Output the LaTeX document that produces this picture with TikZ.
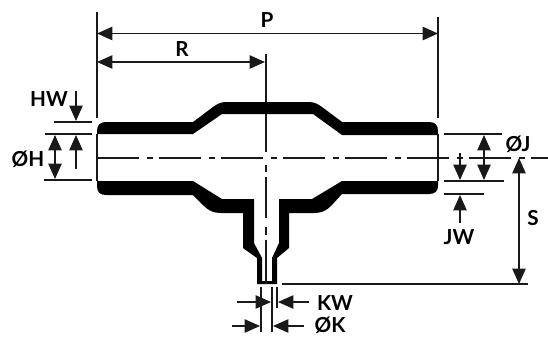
\documentclass[tikz,border=0pt]{standalone}
\usepackage{fontspec}
\setmainfont{Lato}
\usepackage{tikz}
\usetikzlibrary{arrows.meta}

\begin{document}
\begin{tikzpicture}[
    x=0.75pt,
    y=-0.75pt,
    wall/.style={
        fill=black,
        draw=none
    },
    extline/.style={
        draw=black!90,
        line width=1.05pt
    },
    dimarrow/.style={
        draw=black!90,
        line width=1.05pt,
        -{Triangle[length=11.5pt,width=10pt]}
    },
    dimboth/.style={
        dimarrow,
        {Triangle[length=11.5pt,width=10pt]}-{Triangle[length=11.5pt,width=10pt]}
    },
    centreline/.style={
        draw=black!90,
        line width=0.9pt,
        dash pattern=on 31.5pt off 6pt on 4.5pt off 4.5pt
    },
    dimlabel/.style={
        font=\fontsize{15.5}{15.5}\selectfont\bfseries,
        text=black,
        inner sep=0pt
    }
]
\useasboundingbox (0,0) rectangle (548,336);

% Upper wall
\fill[wall] (97,134) -- (97,131) .. controls (97,125) and (100,122) .. (106,122)
    -- (193,122) -- (213,107) .. controls (217,104) and (221,102) .. (226,102)
    -- (309,102) .. controls (314,102) and (318,104) .. (322,107)
    -- (342,122) -- (429,122) .. controls (435,122) and (438,125) .. (438,131)
    -- (438,135) -- (342,135) -- (313,114) -- (222,114) -- (193,134) -- cycle;

% Lower wall and stem
\fill[wall] (97,181) -- (97,186) .. controls (97,192) and (100,195) .. (106,195)
    -- (193,195) -- (204,206) .. controls (209,211) and (214,213) .. (221,213)
    -- (243,213) -- (243,248) -- (257,258) -- (257,284) -- (277,284)
    -- (277,258) -- (289,248) -- (289,213) -- (314,213)
    .. controls (321,213) and (326,211) .. (331,206)
    -- (342,194) -- (429,194) .. controls (435,194) and (438,191) .. (438,186)
    -- (438,181) -- (342,181) -- (312,199) -- (279,199) -- (279,243)
    -- (272,258) -- (272,281) -- (262,281) -- (262,258) -- (254,243)
    -- (254,199) -- (222,199) -- (193,181) -- cycle;

% Bore ends
\draw[extline] (97,134) -- (97,181);
\draw[extline] (438,134) -- (438,181);

% Centre lines
\draw[centreline] (97,158) -- (548,158);
\draw[extline] (266,54) -- (266,102);
\draw[extline] (266,114) -- (266,152);
\draw[extline] (266,165) -- (266,172);
\draw[extline] (266,177) -- (266,218);
\draw[extline] (266,227) -- (266,235);
\draw[extline] (266,240) -- (266,284);

% Extension lines
\draw[extline] (97,12) -- (97,118);
\draw[extline] (438,17) -- (438,118);
\draw[extline] (54,122) -- (92,122);
\draw[extline] (45,134) -- (92,134);
\draw[extline] (44,180) -- (92,180);
\draw[extline] (444,134) -- (502,134);
\draw[extline] (444,181) -- (504,181);
\draw[extline] (444,194) -- (484,194);
\draw[extline] (282,284) -- (528,284);
\draw[extline] (261,287) -- (261,332);
\draw[extline] (272,287) -- (272,332);
\draw[extline] (277,287) -- (277,308);

% Dimensions
\draw[dimboth] (97,33.5) -- (438,33.5);
\draw[dimboth] (97,62) -- (265,62);
\draw[dimboth] (55,135) -- (55,179);
\draw[dimboth] (484,135) -- (484,180);
\draw[dimboth] (519,158) -- (519,284);
\draw[dimarrow] (76,91) -- (76,121);
\draw[dimarrow] (76,169) -- (76,135);
\draw[dimarrow] (460,153) -- (460,180);
\draw[dimarrow] (460,223) -- (460,195);
\draw[dimarrow] (237,302) -- (271,302);
\draw[dimarrow] (309,302) -- (278,302);
\draw[dimarrow] (232,326) -- (260,326);
\draw[dimarrow] (304,326) -- (273,326);

% Labels
\node[dimlabel] (lblP) at (267,20) {P};
\node[dimlabel] (lblR) at (182,49) {R};
\node[dimlabel] (lblHW) at (49,99) {HW};
\node[dimlabel] (lblH) at (28,159) {ØH};
\node[dimlabel] (lblJ) at (518,144) {ØJ};
\node[dimlabel] (lblJW) at (459,237) {JW};
\node[dimlabel] (lblS) at (533,218) {S};
\node[dimlabel] (lblKW) at (335,303) {KW};
\node[dimlabel] (lblK) at (330,325.5) {ØK};

\end{tikzpicture}
\end{document}
